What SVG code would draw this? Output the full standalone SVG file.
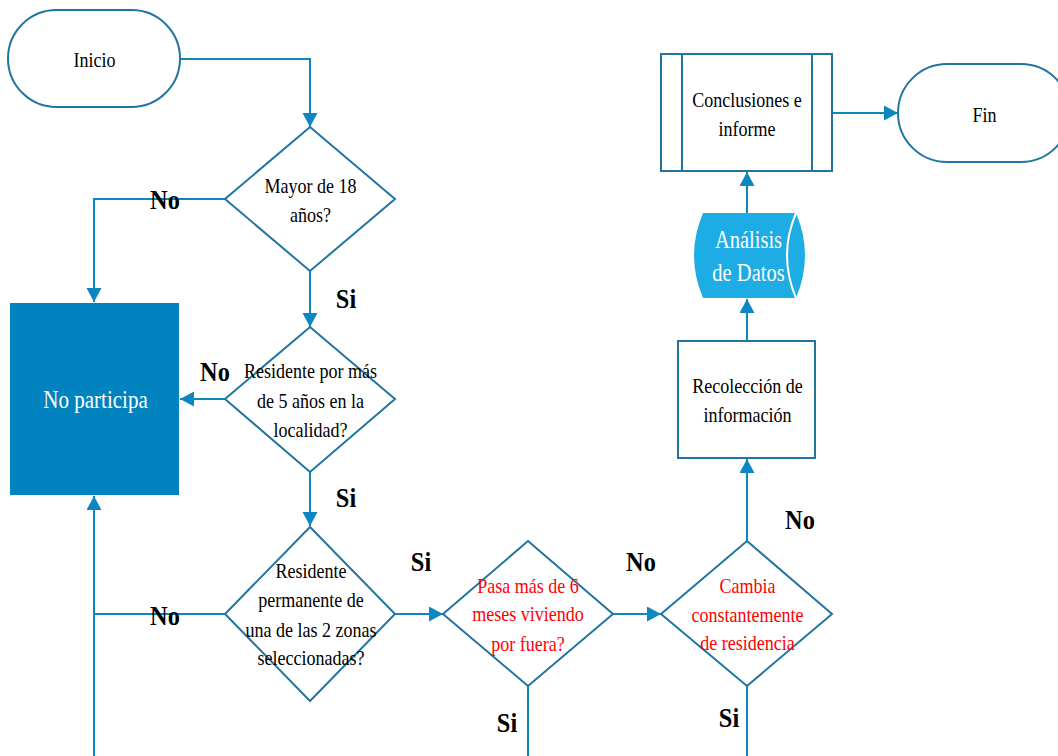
<svg xmlns="http://www.w3.org/2000/svg" width="1058" height="756" viewBox="0 0 1058 756">
<style>
.sh{fill:#fff;stroke:#2275a0;stroke-width:2}
.cn{fill:none;stroke:#0e86c0;stroke-width:2}
.t{font-family:"Liberation Serif","Times New Roman",serif;font-size:22px;text-anchor:middle;fill:#000}
.r{fill:#ff0000}
.w{fill:#fff}
.lb{font-family:"Liberation Serif","Times New Roman",serif;font-size:28px;font-weight:bold;text-anchor:middle;fill:#000}
</style>
<defs>
<marker id="ah" markerUnits="userSpaceOnUse" markerWidth="16" markerHeight="16" refX="14" refY="7.5" orient="auto">
<path d="M0,0 L14,7.5 L0,15 Z" fill="#0e86c0"/>
</marker>
</defs>
<rect width="1058" height="756" fill="#fff"/>
<g id="connectors">
<path class="cn" d="M180,59 H310 V127" marker-end="url(#ah)"/>
<path class="cn" d="M225,199 H94 V302" marker-end="url(#ah)"/>
<path class="cn" d="M310,271 V327" marker-end="url(#ah)"/>
<path class="cn" d="M225,399 H180" marker-end="url(#ah)"/>
<path class="cn" d="M310,472 V526" marker-end="url(#ah)"/>
<path class="cn" d="M225,614 H94"/>
<path class="cn" d="M94,756 V496" marker-end="url(#ah)"/>
<path class="cn" d="M395,614 H443" marker-end="url(#ah)"/>
<path class="cn" d="M613,614 H661" marker-end="url(#ah)"/>
<path class="cn" d="M528,686 V756"/>
<path class="cn" d="M747,686 V756"/>
<path class="cn" d="M747,541 V459" marker-end="url(#ah)"/>
<path class="cn" d="M747,341 V299" marker-end="url(#ah)"/>
<path class="cn" d="M747,213 V172" marker-end="url(#ah)"/>
<path class="cn" d="M832,113 H898" marker-end="url(#ah)"/>
</g>
<g id="inicio">
<rect class="sh" x="8" y="10" width="172" height="97" rx="48.5"/>
<g transform="translate(94.5,0) scale(0.82,1)"><text class="t" x="0" y="67">Inicio</text></g>
</g>
<g id="mayor18">
<path class="sh" d="M310,127 L395,199 L310,271 L225,199 Z"/>
<g transform="translate(310.5,0) scale(0.82,1)"><text class="t" x="0" y="193">Mayor de 18</text><text class="t" x="0" y="222">años?</text></g>
</g>
<g id="noparticipa">
<rect x="10" y="303" width="169" height="192" fill="#0083be"/>
<g transform="translate(95.5,0) scale(0.81,1)"><text class="t w" x="0" y="408" style="font-size:26px">No participa</text></g>
</g>
<g id="residente5">
<path class="sh" d="M310,327 L395,399 L310,472 L225,399 Z"/>
<g transform="translate(310.5,0) scale(0.82,1)"><text class="t" x="0" y="378">Residente por más</text><text class="t" x="0" y="408">de 5 años en la</text><text class="t" x="0" y="437">localidad?</text></g>
</g>
<g id="residenteperm">
<path class="sh" d="M310,527 L395,614 L310,701 L225,614 Z"/>
<g transform="translate(311,0) scale(0.82,1)"><text class="t" x="0" y="578">Residente</text><text class="t" x="0" y="607">permanente de</text><text class="t" x="0" y="637">una de las 2 zonas</text><text class="t" x="0" y="665">seleccionadas?</text></g>
</g>
<g id="pasa6">
<path class="sh" d="M528,541 L613,614 L528,686 L443,614 Z"/>
<g transform="translate(528,0) scale(0.82,1)"><text class="t r" x="0" y="593">Pasa más de 6</text><text class="t r" x="0" y="621">meses viviendo</text><text class="t r" x="0" y="651">por fuera?</text></g>
</g>
<g id="cambia">
<path class="sh" d="M747,541 L832,614 L747,686 L661,614 Z"/>
<g transform="translate(747.5,0) scale(0.82,1)"><text class="t r" x="0" y="593">Cambia</text><text class="t r" x="0" y="622">constantemente</text><text class="t r" x="0" y="650">de residencia</text></g>
</g>
<g id="recoleccion">
<rect class="sh" x="678" y="341" width="137" height="117"/>
<g transform="translate(747.5,0) scale(0.82,1)"><text class="t" x="0" y="393">Recolección de</text><text class="t" x="0" y="422">información</text></g>
</g>
<g id="analisis">
<path d="M703,213 L796,213 Q814,255.5 796,298 L703,298 Q685,255.5 703,213 Z" fill="#1dade4"/>
<path d="M796,213 Q778,255.5 796,298" fill="none" stroke="#fff" stroke-width="2"/>
<g transform="translate(748.5,0) scale(0.82,1)"><text class="t w" x="0" y="248" style="font-size:25px">Análisis</text><text class="t w" x="0" y="281" style="font-size:25px">de Datos</text></g>
</g>
<g id="conclusiones">
<rect class="sh" x="661" y="54" width="171" height="117"/>
<path class="sh" d="M682,54 V171 M812,54 V171"/>
<g transform="translate(747,0) scale(0.82,1)"><text class="t" x="0" y="107">Conclusiones e</text><text class="t" x="0" y="136">informe</text></g>
</g>
<g id="fin">
<rect class="sh" x="898" y="64" width="172" height="98" rx="49"/>
<g transform="translate(984.5,0) scale(0.82,1)"><text class="t" x="0" y="122">Fin</text></g>
</g>
<g id="labels">
<g transform="translate(165,0) scale(0.87,1)"><text class="lb" x="0" y="209">No</text></g>
<g transform="translate(346,0) scale(0.87,1)"><text class="lb" x="0" y="308">Si</text></g>
<g transform="translate(215,0) scale(0.87,1)"><text class="lb" x="0" y="381">No</text></g>
<g transform="translate(346,0) scale(0.87,1)"><text class="lb" x="0" y="507">Si</text></g>
<g transform="translate(165,0) scale(0.87,1)"><text class="lb" x="0" y="625">No</text></g>
<g transform="translate(421,0) scale(0.87,1)"><text class="lb" x="0" y="571">Si</text></g>
<g transform="translate(641,0) scale(0.87,1)"><text class="lb" x="0" y="571">No</text></g>
<g transform="translate(800,0) scale(0.87,1)"><text class="lb" x="0" y="529">No</text></g>
<g transform="translate(507,0) scale(0.87,1)"><text class="lb" x="0" y="732">Si</text></g>
<g transform="translate(729,0) scale(0.87,1)"><text class="lb" x="0" y="727">Si</text></g>
</g>
</svg>
